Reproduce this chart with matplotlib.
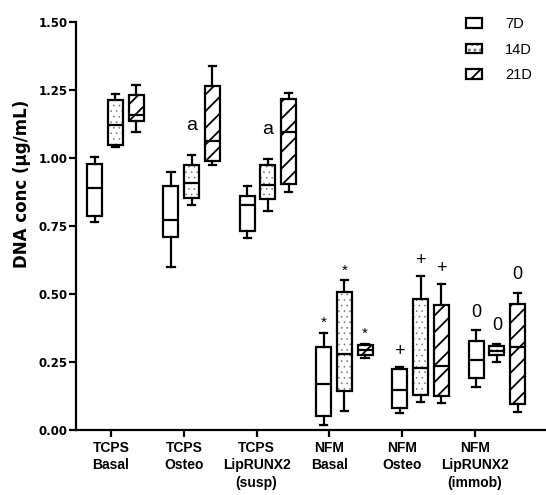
import matplotlib
matplotlib.use('Agg')
import matplotlib.pyplot as plt
from matplotlib.patches import Patch

plt.rcParams['font.family'] = ['Liberation Sans', 'DejaVu Sans']
plt.rcParams['hatch.linewidth'] = 1.3

groups = ['TCPS\nBasal', 'TCPS\nOsteo', 'TCPS\nLipRUNX2\n(susp)',
          'NFM\nBasal', 'NFM\nOsteo', 'NFM\nLipRUNX2\n(immob)']
series = ['7D', '14D', '21D']
hatches = ['', '...', '//']

# min, q1, median, q3, max for each group
d7 = [[0.763, 0.788, 0.890, 0.979, 1.005],
      [0.600, 0.708, 0.773, 0.896, 0.947],
      [0.706, 0.730, 0.828, 0.861, 0.896],
      [0.019, 0.053, 0.169, 0.304, 0.357],
      [0.063, 0.081, 0.148, 0.224, 0.230],
      [0.158, 0.193, 0.256, 0.326, 0.366]]
d14 = [[1.040, 1.046, 1.122, 1.214, 1.235],
       [0.828, 0.853, 0.908, 0.975, 1.012],
       [0.804, 0.849, 0.902, 0.975, 0.997],
       [0.071, 0.144, 0.281, 0.506, 0.550],
       [0.103, 0.127, 0.228, 0.483, 0.567],
       [0.250, 0.274, 0.289, 0.310, 0.317]]
d21 = [[1.096, 1.137, 1.159, 1.230, 1.267],
       [0.975, 0.990, 1.061, 1.263, 1.340],
       [0.874, 0.904, 1.094, 1.217, 1.239],
       [0.266, 0.276, 0.293, 0.312, 0.317],
       [0.099, 0.126, 0.236, 0.461, 0.538],
       [0.065, 0.097, 0.305, 0.463, 0.504]]

# significance marks: (group, series, text)
marks = [(1, 1, 'a'), (2, 1, 'a'),
         (3, 0, '*'), (3, 1, '*'), (3, 2, '*'),
         (4, 0, '+'), (4, 1, '+'), (4, 2, '+'),
         (5, 0, '0'), (5, 1, '0'), (5, 2, '0')]

fig = plt.figure(figsize=(5.46, 4.95), dpi=100)
ax = fig.add_axes([76 / 546, 65 / 495, 470 / 546, 408 / 495])

width = 0.206
step = 0.285


def pos(g, s):
    return 0.06 + 1.048 * g + (s - 1) * step


def dotted(patch):
    # grey, fine dots for the 14D boxes
    patch._hatch_color = (0.45, 0.45, 0.45, 1.0)
    patch._hatch_linewidth = 0.4
    if hasattr(patch, 'set_hatch_linewidth'):
        patch.set_hatch_linewidth(0.4)


for s, data in enumerate([d7, d14, d21]):
    stats = []
    for row in data:
        lo, q1, med, q3, hi = row
        stats.append(dict(whislo=lo, q1=q1, med=med, q3=q3, whishi=hi, fliers=[]))
    bp = ax.bxp(stats, positions=[pos(g, s) for g in range(len(groups))],
                widths=width, capwidths=0.1, patch_artist=True, showfliers=False,
                boxprops=dict(facecolor='white', edgecolor='black', linewidth=1.6),
                medianprops=dict(color='black', linewidth=1.6),
                whiskerprops=dict(color='black', linewidth=1.6),
                capprops=dict(color='black', linewidth=1.6))
    for b in bp['boxes']:
        b.set_hatch(hatches[s])
        if s == 1:
            dotted(b)

for g, s, txt in marks:
    top = [d7, d14, d21][s][g][4]
    size = {'a': 14, '*': 11, '+': 13, '0': 13}[txt]
    gap = {'a': 15, '*': 2, '+': 5, '0': 7}[txt]
    ax.annotate(txt, (pos(g, s), top), xytext=(0, gap), textcoords='offset points',
                ha='center', va='bottom', fontsize=size)

ax.set_xlim(-0.481, 5.975)
ax.set_ylim(0, 1.5)
ax.set_yticks([0, 0.25, 0.5, 0.75, 1.0, 1.25, 1.5])
ax.set_yticklabels(['0.00', '0.25', '0.50', '0.75', '1.00', '1.25', '1.50'],
                   fontweight='bold', fontsize=8.5, family='DejaVu Sans')
ax.set_xticks(range(len(groups)))
ax.set_xticklabels(groups, fontweight='bold', fontsize=10, linespacing=1.3, va='top')
ax.tick_params(axis='both', length=5, width=1.6)
ax.tick_params(axis='y', pad=1)
ax.tick_params(axis='x', pad=3)
for side in ['top', 'right']:
    ax.spines[side].set_visible(False)
for side in ['left', 'bottom']:
    ax.spines[side].set_linewidth(1.6)

ax.set_ylabel('DNA conc (\u03bcg/mL)', fontweight='bold', fontsize=12, family='DejaVu Sans')
ax.yaxis.set_label_coords(-0.096, 0.603)

handles = []
for s, h in enumerate(hatches):
    p = Patch(facecolor='white', edgecolor='black', linewidth=1.6, hatch=h)
    if s == 1:
        dotted(p)
    handles.append(p)
fig.legend(handles, series, loc='upper left', bbox_to_anchor=(466 / 546, 0.965),
           frameon=False, fontsize=10.5, handlelength=1.1, handleheight=0.65,
           handletextpad=1.6, labelspacing=0.78, borderpad=0, borderaxespad=0)

fig.savefig('out.png', dpi=100)
